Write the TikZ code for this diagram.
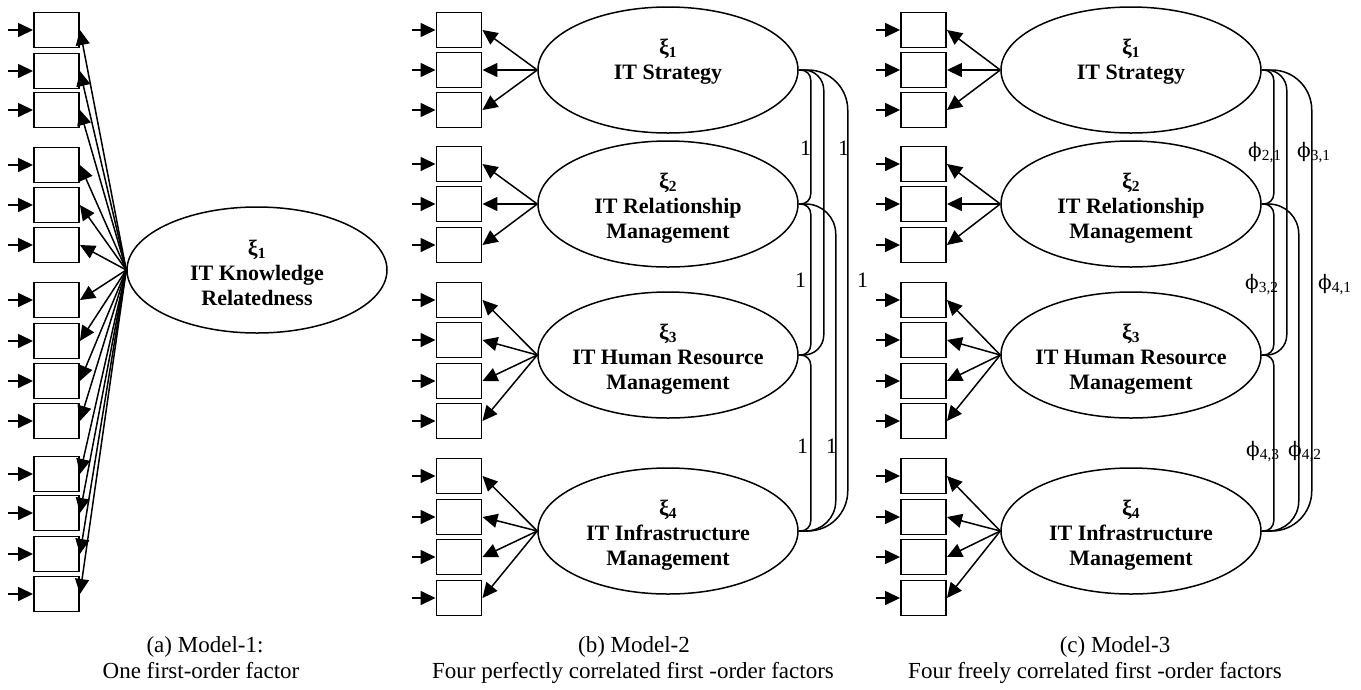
\documentclass[tikz,border=0pt]{standalone}
\usepackage{fontspec}
\setmainfont{Liberation Serif}
\newfontfamily\phifont{DejaVu Serif}
\usetikzlibrary{arrows.meta,shapes.geometric}

\newcommand\phic[1]{{\phifont\fontsize{20}{24}\selectfont ϕ}\textsubscript{#1}}

\tikzset{
  indicator/.style={draw, line width=1.9pt, minimum width=45pt, minimum height=35pt, inner sep=0pt},
  latent/.style={draw, ellipse, line width=1.5pt, minimum width=260pt, minimum height=126pt, inner sep=0pt},
  lattext/.style={font=\fontsize{22}{25}\selectfont\bfseries, align=center, inner sep=0pt},
  arrowline/.style={line width=1.5pt, -{Triangle[length=15pt,width=14pt]}},
  corr/.style={line width=1.5pt},
  coef/.style={font=\fontsize{22}{26}\selectfont, inner sep=0pt, anchor=base west},
  captxt/.style={font=\fontsize{23}{26}\selectfont, inner sep=0pt, anchor=base},
}

\begin{document}
\begin{tikzpicture}[x=1pt, y=-1pt]
\useasboundingbox (0,0) rectangle (1361,689);

% ---------------- (a) one first-order factor ----------------
\node[latent] (A) at (257,270) {};
\node[lattext] (tA) at ([yshift=-5pt]A.center)
  {\strut ξ\textsubscript{1}\\\strut IT Knowledge\\\strut Relatedness};
\foreach \y [count=\i] in {30,71,110,165,205,245,300,341,381,421,474,513,554,594} {
  \node[indicator] (a\i) at (56.5,\y) {};
  \coordinate (ae\i) at (8,\y);
  \draw[arrowline] (ae\i) -- (a\i.west);
  \draw[arrowline] (A.west) -- (a\i.east);
}

% ---------------- (b) perfectly correlated factors ----------------
\node[latent] (B1) at (668,70) {};
\node[latent] (B2) at (668,204) {};
\node[latent] (B3) at (668,355) {};
\node[latent] (B4) at (668,531) {};
\node[lattext] (tB1) at ([yshift=-4pt]B1.center) {\strut ξ\textsubscript{1}\\\strut IT Strategy\\\strut};
\node[lattext] (tB2) at ([yshift=-4pt]B2.center) {\strut ξ\textsubscript{2}\\\strut IT Relationship\\\strut Management};
\node[lattext] (tB3) at ([yshift=-4pt]B3.center) {\strut ξ\textsubscript{3}\\\strut IT Human Resource\\\strut Management};
\node[lattext] (tB4) at ([yshift=-4pt]B4.center) {\strut ξ\textsubscript{4}\\\strut IT Infrastructure\\\strut Management};

\foreach \y/\f [count=\i] in {30/1,70/1,110/1,164/2,204/2,245/2,300/3,340/3,381/3,421/3,476/4,517/4,557/4,598/4} {
  \node[indicator] (b\i) at (459,\y) {};
  \coordinate (be\i) at (412,\y);
  \draw[arrowline] (be\i) -- (b\i.west);
  \draw[arrowline] (B\f.west) -- (b\i.east);
}

\foreach \s/\t/\d/\r in {1/2/12/10, 1/3/25/20, 1/4/49/40, 2/3/12/10, 2/4/37/30, 3/4/12/10}
  \draw[corr, rounded corners=\r pt] (B\s.east) -| ([xshift=\d pt]B\t.east) -- (B\t.east);

\node[coef] (l12) at (800,155) {1};
\node[coef] (l13) at (838,155) {1};
\node[coef] (l23) at (795,287) {1};
\node[coef] (l14) at (857,287) {1};
\node[coef] (l34) at (797,453) {1};
\node[coef] (l24) at (826,453) {1};

% ---------------- (c) freely correlated factors ----------------
\node[latent] (C1) at (1131,70) {};
\node[latent] (C2) at (1131,204) {};
\node[latent] (C3) at (1131,355) {};
\node[latent] (C4) at (1131,531) {};
\node[lattext] (tC1) at ([yshift=-4pt]C1.center) {\strut ξ\textsubscript{1}\\\strut IT Strategy\\\strut};
\node[lattext] (tC2) at ([yshift=-4pt]C2.center) {\strut ξ\textsubscript{2}\\\strut IT Relationship\\\strut Management};
\node[lattext] (tC3) at ([yshift=-4pt]C3.center) {\strut ξ\textsubscript{3}\\\strut IT Human Resource\\\strut Management};
\node[lattext] (tC4) at ([yshift=-4pt]C4.center) {\strut ξ\textsubscript{4}\\\strut IT Infrastructure\\\strut Management};

\foreach \y/\f [count=\i] in {30/1,70/1,110/1,164/2,204/2,245/2,300/3,340/3,381/3,421/3,476/4,517/4,557/4,598/4} {
  \node[indicator] (c\i) at (923.5,\y) {};
  \coordinate (ce\i) at (876,\y);
  \draw[arrowline] (ce\i) -- (c\i.west);
  \draw[arrowline] (C\f.west) -- (c\i.east);
}

\foreach \s/\t/\d/\r in {1/2/12/10, 1/3/25/20, 1/4/50/40, 2/3/12/10, 2/4/37/30, 3/4/12/10}
  \draw[corr, rounded corners=\r pt] (C\s.east) -| ([xshift=\d pt]C\t.east) -- (C\t.east);

\node[coef] (p21) at (1248,157) {\phic{2,1}};
\node[coef] (p31) at (1297,157) {\phic{3,1}};
\node[coef] (p32) at (1245,289) {\phic{3,2}};
\node[coef] (p41) at (1318,289) {\phic{4,1}};
\node[coef] (p43) at (1246,456) {\phic{4,3}};
\node[coef] (p42) at (1288,456) {\phic{4,2}};

% ---------------- captions ----------------
\node[captxt] (capA1) at (205,652) {(a) Model-1:};
\node[captxt] (capA2) at (201,678) {One first-order factor};
\node[captxt] (capB1) at (634,652) {(b) Model-2};
\node[captxt] (capB2) at (633,678) {Four perfectly correlated first -order factors};
\node[captxt] (capC1) at (1115,652) {(c) Model-3};
\node[captxt] (capC2) at (1095,678) {Four freely correlated first -order factors};
\end{tikzpicture}
\end{document}
